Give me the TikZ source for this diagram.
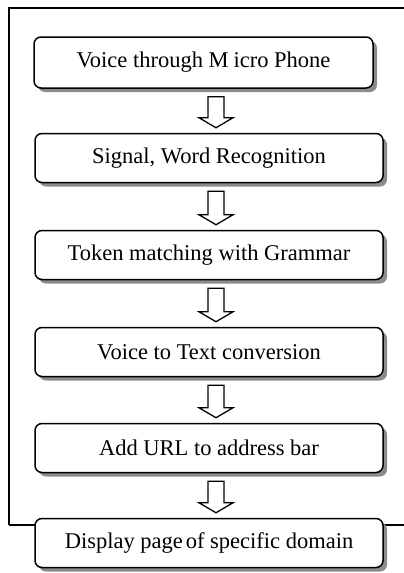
\documentclass[tikz,border=0pt]{standalone}
\usepackage{fontspec}
\setmainfont{Liberation Serif}
\usetikzlibrary{calc,shadows}
\begin{document}
\begin{tikzpicture}[x=1pt,y=-1pt,
  stepbox/.style={draw=black, line width=1.5pt, rounded corners=7pt, fill=white,
    inner sep=0pt, font=\fontsize{22.5}{25}\selectfont,
    drop shadow={shadow xshift=4pt, shadow yshift=-4pt, fill=black!45, opacity=1}},
  fatarrow/.style={draw=black, line width=1.3pt, fill=white, line join=miter},
  frame/.style={draw=black, line width=1.2pt}]
\useasboundingbox (0,0) rectangle (404,573);
% outer frame
\coordinate (fl) at (9,525);
\coordinate (ftl) at (9,8);
\coordinate (ftr) at (404,8);
\coordinate (fr) at (404,525);
\draw[frame] (fl) -- (ftl) -- (ftr);
\draw[frame] (fl) -- (40,525);
\draw[frame] (380,525) -- (fr);
% boxes
\node[stepbox, minimum width=339, minimum height=51] (b1) at (203.5,62.5) {Voice through M\hspace{0.22em}icro Phone};
\node[stepbox, minimum width=348, minimum height=49] (b2) at (209,158) {Signal, Word Recognition};
\node[stepbox, minimum width=348, minimum height=49] (b3) at (209,255) {Token matching with Grammar};
\node[stepbox, minimum width=348, minimum height=49] (b4) at (209,352) {Voice to Text conversion};
\node[stepbox, minimum width=348, minimum height=49] (b5) at (209,448) {Add URL to address bar};
\node[stepbox, minimum width=348, minimum height=49] (b6) at (209,543) {Display page\hspace{-0.12em} of specific domain};
% arrows
\foreach \a/\b [count=\i] in {b1/b2,b2/b3,b3/b4,b4/b5,b5/b6}{
  \coordinate (t\i) at ($(216,0)!(\a.south)!(216,600)$);
  \coordinate (h\i) at ($(216,0)!(\b.north)!(216,600)$);
  \draw[fatarrow] ($(t\i)+(-8,8)$) -- ($(t\i)+(8,8)$) -- ($(h\i)+(8,-15)$)
    -- ($(h\i)+(17,-15)$) -- ($(h\i)+(0,-5)$) -- ($(h\i)+(-17,-15)$)
    -- ($(h\i)+(-8,-15)$) -- cycle;
}
\end{tikzpicture}
\end{document}
